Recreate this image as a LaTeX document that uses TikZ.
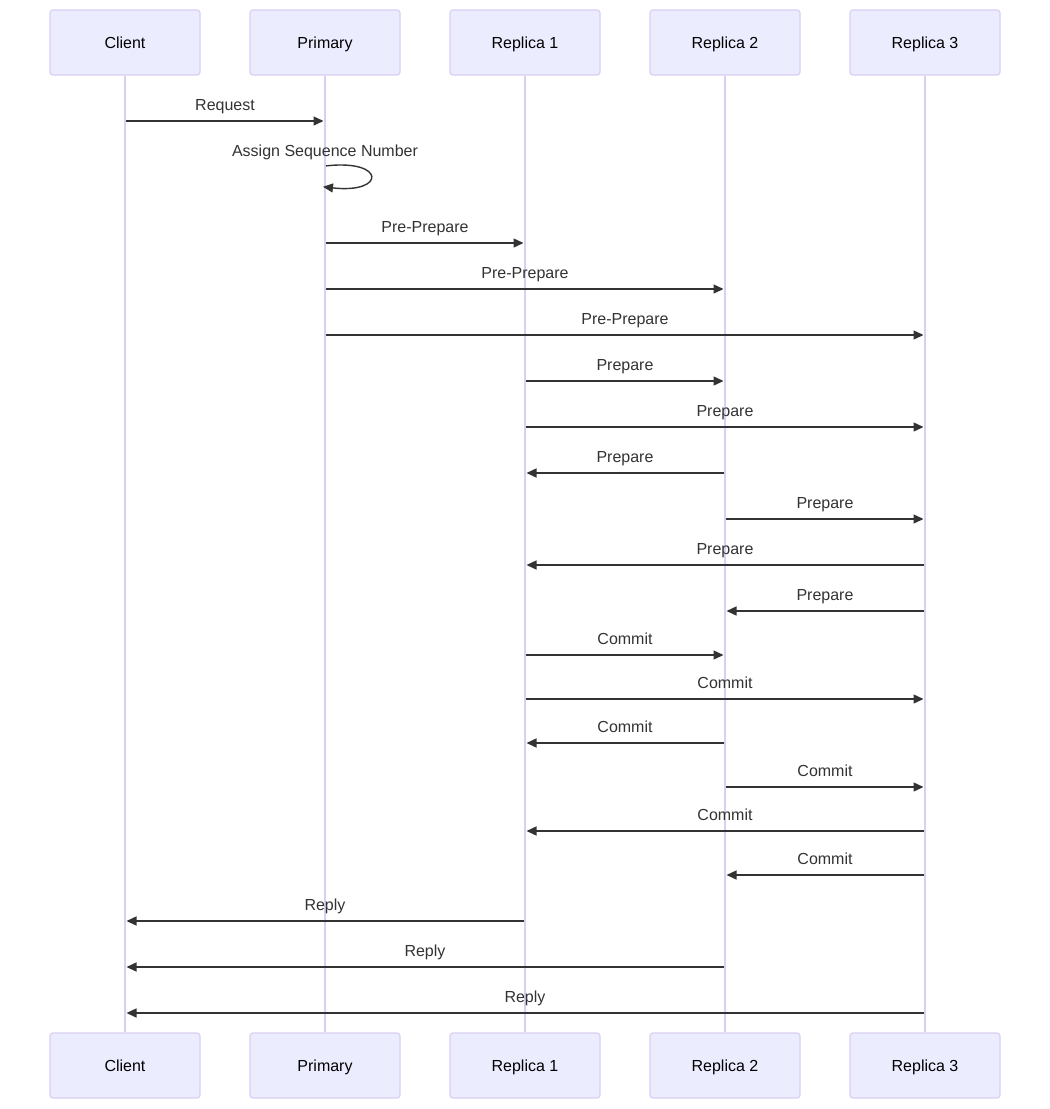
\documentclass[tikz,border=0pt]{standalone}
\usepackage{fontspec}
\setmainfont{Liberation Sans}
\usetikzlibrary{arrows.meta}
\definecolor{actfill}{HTML}{ECECFF}
\definecolor{actline}{HTML}{DACEF3}
\definecolor{msgline}{HTML}{333333}
\newcommand{\msg}[4]{\draw[msg] (#1|-0,#3) -- node[lbl]{#4} (#2|-0,#3);}
\begin{document}
\begin{tikzpicture}[x=1pt, y=-1pt, every node/.style={font=\fontsize{16}{19}\selectfont},
  actor/.style={draw=actline,fill=actfill,line width=1.2pt,rounded corners=3pt,minimum width=150pt,minimum height=65pt,inner sep=0pt,text height=12pt,text depth=0pt,text=black},
  life/.style={draw=actline,line width=1.6pt},
  msg/.style={draw=msgline,line width=1.4pt,-{Triangle[length=10pt,width=9pt]},shorten >=1.5pt,shorten <=1pt},
  lbl/.style={anchor=base,yshift=11pt,inner sep=0pt,text=msgline}]
\useasboundingbox[fill=white] (0,0) rectangle (1050,1109);
\node[actor] (client) at (125,42.5) {Client};
\node[actor] (primary) at (325,42.5) {Primary};
\node[actor] (rep1) at (525,42.5) {Replica 1};
\node[actor] (rep2) at (725,42.5) {Replica 2};
\node[actor] (rep3) at (925,42.5) {Replica 3};
\node[actor] (clientB) at (125,1065.5) {Client};
\node[actor] (primaryB) at (325,1065.5) {Primary};
\node[actor] (rep1B) at (525,1065.5) {Replica 1};
\node[actor] (rep2B) at (725,1065.5) {Replica 2};
\node[actor] (rep3B) at (925,1065.5) {Replica 3};
\draw[life] (client) -- (clientB);
\draw[life] (primary) -- (primaryB);
\draw[life] (rep1) -- (rep1B);
\draw[life] (rep2) -- (rep2B);
\draw[life] (rep3) -- (rep3B);
% request and ordering
\msg{client}{primary}{121}{Request}
\node[lbl] (assign) at (primary|-0,167) {Assign Sequence Number};
\draw[msg,shorten >=-2pt] (primary|-0,166) .. controls (386,159) and (386,194) .. (primary|-0,187);
% pre-prepare
\msg{primary}{rep1}{243}{Pre-Prepare}
\msg{primary}{rep2}{289}{Pre-Prepare}
\msg{primary}{rep3}{335}{Pre-Prepare}
% prepare
\msg{rep1}{rep2}{381}{Prepare}
\msg{rep1}{rep3}{427}{Prepare}
\msg{rep2}{rep1}{473}{Prepare}
\msg{rep2}{rep3}{519}{Prepare}
\msg{rep3}{rep1}{565}{Prepare}
\msg{rep3}{rep2}{611}{Prepare}
% commit
\msg{rep1}{rep2}{655}{Commit}
\msg{rep1}{rep3}{699}{Commit}
\msg{rep2}{rep1}{743}{Commit}
\msg{rep2}{rep3}{787}{Commit}
\msg{rep3}{rep1}{831}{Commit}
\msg{rep3}{rep2}{875}{Commit}
% reply
\msg{rep1}{client}{921}{Reply}
\msg{rep2}{client}{967}{Reply}
\msg{rep3}{client}{1013}{Reply}
\end{tikzpicture}
\end{document}
